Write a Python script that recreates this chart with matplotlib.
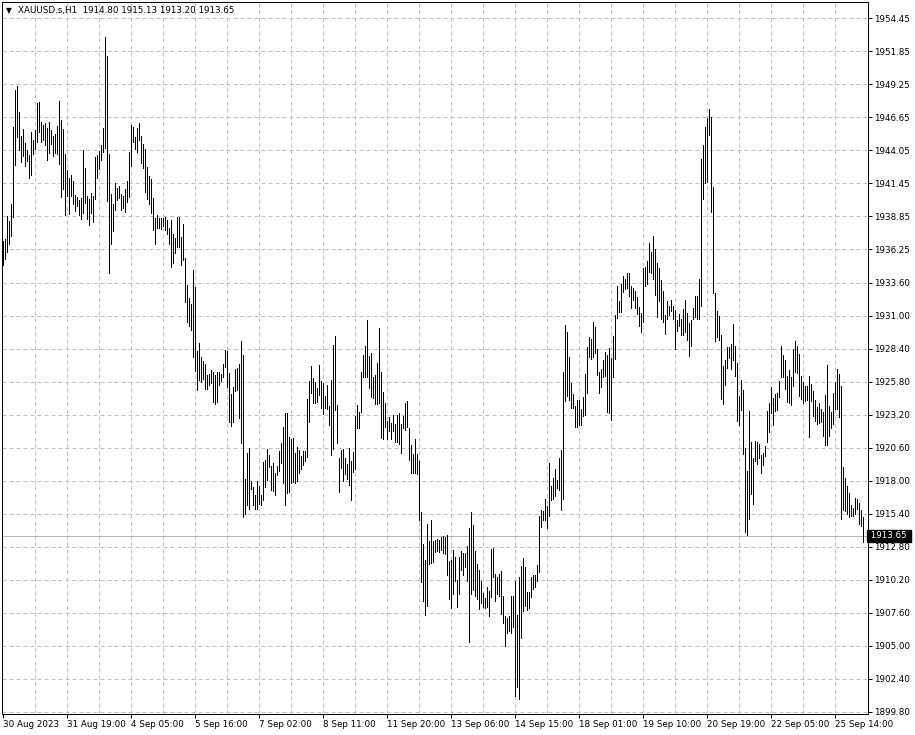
import numpy as np
import matplotlib.pyplot as plt

# dane z wykresu XAUUSD H1 (max / min kazdej swiecy, od lewej)
symbol = "XAUUSD.s,H1"
last_ohlc = [1914.80, 1915.13, 1913.20, 1913.65]

high = [
    1936.90, 1937.03, 1938.85, 1938.45, 1939.79, 1945.86, 1948.77, 1949.09, 1947.07, 1945.15,
    1945.70, 1944.62, 1944.05, 1943.65, 1945.46, 1944.83, 1945.62, 1947.78, 1947.85, 1946.25,
    1946.07, 1946.23, 1945.81, 1946.25, 1945.67, 1945.15, 1945.33, 1945.94, 1947.93, 1946.46,
    1945.73, 1943.73, 1942.47, 1941.84, 1942.08, 1941.63, 1940.53, 1940.37, 1940.11, 1940.29,
    1944.05, 1942.63, 1940.42, 1940.21, 1940.69, 1940.45, 1943.50, 1943.71, 1944.02, 1944.49,
    1945.83, 1952.97, 1951.45, 1943.73, 1940.58, 1939.85, 1941.45, 1941.05, 1941.21, 1940.58,
    1940.45, 1940.97, 1941.63, 1943.95, 1946.04, 1945.90, 1945.11, 1945.80, 1946.22, 1945.14,
    1944.53, 1944.19, 1942.74, 1942.03, 1941.77, 1940.26, 1938.68, 1938.94, 1938.73, 1938.68,
    1938.68, 1938.79, 1938.52, 1937.94, 1938.52, 1937.42, 1937.15, 1938.79, 1938.79, 1937.20,
    1938.21, 1935.57, 1933.41, 1932.41, 1931.93, 1934.65, 1933.25, 1928.24, 1928.85, 1927.79,
    1927.40, 1927.19, 1926.34, 1926.40, 1926.74, 1926.55, 1926.34, 1926.61, 1926.61, 1926.40,
    1927.19, 1928.32, 1928.24, 1926.47, 1924.81, 1925.42, 1926.82, 1926.87, 1927.19, 1929.03,
    1927.92, 1918.17, 1920.15, 1920.59, 1917.96, 1917.51, 1916.90, 1917.96, 1917.59, 1916.90,
    1919.49, 1919.62, 1920.49, 1920.02, 1919.17, 1919.36, 1918.57, 1919.17, 1920.33, 1920.94,
    1922.21, 1923.37, 1923.37, 1921.42, 1921.26, 1921.34, 1920.20, 1920.63, 1920.41, 1919.94,
    1920.36, 1920.36, 1924.42, 1925.90, 1927.06, 1926.08, 1925.82, 1925.29, 1927.14, 1925.90,
    1925.74, 1924.69, 1925.56, 1923.89, 1925.95, 1928.72, 1929.43, 1923.97, 1919.83, 1920.41,
    1920.47, 1919.76, 1919.31, 1920.55, 1919.57, 1920.28, 1923.10, 1923.97, 1923.45, 1926.61,
    1927.93, 1928.59, 1930.64, 1927.80, 1928.06, 1926.21, 1926.35, 1927.27, 1930.04, 1926.61,
    1925.03, 1924.16, 1922.73, 1923.00, 1922.58, 1923.18, 1922.47, 1923.18, 1923.37, 1922.47,
    1923.10, 1924.16, 1924.32, 1922.18, 1920.81, 1920.10, 1921.26, 1920.10, 1919.57, 1915.54,
    1912.98, 1911.77, 1914.56, 1913.24, 1914.88, 1913.24, 1913.35, 1913.43, 1913.35, 1913.56,
    1913.61, 1913.56, 1913.69, 1911.66, 1911.72, 1912.51, 1911.98, 1910.21, 1911.98, 1912.43,
    1912.32, 1912.32, 1912.85, 1914.27, 1915.54, 1914.54, 1912.43, 1911.45, 1910.93, 1910.06,
    1909.16, 1908.74, 1909.61, 1909.34, 1912.64, 1912.69, 1910.66, 1910.40, 1910.66, 1910.85,
    1908.90, 1907.37, 1907.16, 1907.37, 1908.95, 1908.95, 1910.13, 1907.42, 1910.40, 1911.27,
    1911.90, 1911.19, 1909.21, 1909.26, 1910.40, 1910.53, 1910.53, 1911.32, 1915.19, 1915.72,
    1915.61, 1916.59, 1916.00, 1919.41, 1917.56, 1918.25, 1918.96, 1918.04, 1919.83, 1920.41,
    1926.61, 1930.30, 1929.69, 1927.79, 1925.74, 1924.84, 1923.89, 1924.37, 1924.37, 1923.63,
    1924.58, 1926.42, 1928.53, 1929.32, 1929.16, 1930.48, 1930.11, 1928.37, 1926.61, 1926.79,
    1927.48, 1928.11, 1927.92, 1928.45, 1927.66, 1929.38, 1931.09, 1933.39, 1932.15, 1933.47,
    1934.12, 1933.91, 1934.34, 1934.34, 1933.33, 1933.20, 1932.94, 1932.49, 1931.70, 1931.22,
    1934.78, 1934.86, 1935.31, 1936.76, 1936.02, 1937.29, 1936.23, 1935.18, 1934.78, 1933.81,
    1932.94, 1931.09, 1932.15, 1931.80, 1932.23, 1931.75, 1931.43, 1930.64, 1931.17, 1930.75,
    1931.54, 1932.23, 1931.22, 1930.43, 1930.70, 1931.62, 1932.60, 1932.54, 1933.91, 1943.40,
    1944.46, 1945.86, 1946.57, 1947.31, 1946.65, 1941.19, 1932.81, 1931.36, 1931.01, 1929.51,
    1927.06, 1927.48, 1928.53, 1928.53, 1928.80, 1930.38, 1928.59, 1927.32, 1924.69, 1925.95,
    1925.16, 1920.55, 1918.78, 1923.53, 1921.07, 1919.76, 1921.15, 1921.07, 1920.89, 1920.02,
    1920.15, 1920.73, 1923.53, 1924.16, 1925.42, 1924.50, 1924.84, 1924.95, 1925.90, 1928.59,
    1927.93, 1927.48, 1926.27, 1926.74, 1926.16, 1928.38, 1928.98, 1928.64, 1928.01, 1926.22,
    1925.82, 1925.48, 1925.43, 1926.27, 1925.64, 1925.11, 1924.37, 1923.79, 1924.11, 1923.63,
    1923.45, 1924.77, 1927.14, 1923.90, 1923.45, 1924.95, 1925.82, 1926.80, 1926.43, 1925.48,
    1919.10, 1918.25, 1917.57, 1917.04, 1916.07, 1915.88, 1916.67, 1916.59, 1916.25, 1915.67,
    1915.13,
]

low = [
    1934.99, 1935.49, 1936.04, 1936.67, 1937.30, 1938.79, 1942.89, 1945.10, 1944.10, 1943.13,
    1943.57, 1942.81, 1943.18, 1941.87, 1942.10, 1943.73, 1944.15, 1944.73, 1945.49, 1944.68,
    1944.86, 1944.44, 1943.29, 1943.86, 1944.52, 1943.60, 1943.81, 1943.78, 1943.00, 1940.37,
    1941.00, 1938.98, 1940.45, 1939.03, 1940.42, 1939.82, 1939.29, 1939.63, 1938.93, 1938.64,
    1939.08, 1939.90, 1938.64, 1938.16, 1939.11, 1938.40, 1940.21, 1941.87, 1942.60, 1943.26,
    1943.92, 1944.23, 1940.05, 1934.38, 1936.67, 1937.70, 1939.34, 1940.10, 1940.26, 1939.31,
    1939.47, 1939.21, 1940.00, 1940.37, 1942.82, 1944.74, 1944.19, 1943.95, 1944.85, 1943.08,
    1942.69, 1940.79, 1940.24, 1939.84, 1939.13, 1937.73, 1936.68, 1937.94, 1937.89, 1937.81,
    1938.07, 1937.73, 1937.42, 1936.68, 1934.86, 1935.17, 1935.97, 1936.41, 1936.44, 1934.99,
    1935.44, 1932.09, 1930.51, 1930.17, 1929.90, 1927.79, 1926.66, 1925.16, 1925.95, 1925.82,
    1926.03, 1925.24, 1925.24, 1925.55, 1925.68, 1924.23, 1924.02, 1924.18, 1925.55, 1925.87,
    1926.21, 1927.00, 1925.42, 1922.65, 1922.33, 1922.60, 1925.08, 1925.16, 1922.92, 1920.94,
    1915.14, 1915.40, 1916.06, 1915.80, 1917.38, 1916.11, 1915.74, 1915.74, 1916.19, 1916.11,
    1916.46, 1917.51, 1918.04, 1919.09, 1917.25, 1917.17, 1916.90, 1918.43, 1918.75, 1919.36,
    1917.83, 1916.06, 1917.04, 1917.12, 1917.83, 1917.91, 1917.83, 1917.99, 1918.57, 1918.89,
    1919.23, 1919.57, 1919.89, 1922.66, 1924.90, 1924.16, 1924.11, 1924.24, 1924.76, 1923.71,
    1923.26, 1923.71, 1923.63, 1922.39, 1920.02, 1920.47, 1923.58, 1920.99, 1917.12, 1919.04,
    1917.99, 1918.52, 1918.17, 1917.65, 1916.46, 1918.70, 1918.96, 1922.13, 1922.13, 1923.45,
    1926.16, 1926.20, 1926.16, 1925.29, 1924.58, 1924.50, 1924.05, 1924.05, 1924.16, 1921.34,
    1921.26, 1922.21, 1921.26, 1921.94, 1921.26, 1921.94, 1921.07, 1921.07, 1920.89, 1920.15,
    1922.13, 1922.00, 1922.21, 1919.62, 1918.62, 1918.57, 1918.57, 1918.52, 1914.93, 1910.00,
    1908.50, 1907.44, 1908.15, 1911.45, 1911.50, 1911.58, 1912.37, 1912.45, 1912.37, 1912.56,
    1912.29, 1912.24, 1910.53, 1908.68, 1907.95, 1909.08, 1910.06, 1908.03, 1909.08, 1910.93,
    1910.58, 1911.19, 1910.06, 1905.31, 1909.08, 1909.42, 1908.90, 1908.68, 1907.89, 1908.37,
    1908.03, 1907.95, 1908.03, 1907.37, 1908.82, 1910.40, 1908.55, 1909.08, 1908.90, 1907.50,
    1906.79, 1904.99, 1905.99, 1906.18, 1905.99, 1906.44, 1900.99, 1901.70, 1900.78, 1905.57,
    1907.76, 1908.11, 1907.84, 1907.95, 1908.82, 1909.47, 1909.60, 1910.06, 1910.84, 1914.35,
    1914.88, 1914.93, 1914.30, 1915.19, 1916.51, 1916.59, 1916.77, 1917.46, 1917.30, 1915.72,
    1916.59, 1924.31, 1924.68, 1924.37, 1923.71, 1923.71, 1922.20, 1922.20, 1922.39, 1922.39,
    1923.10, 1923.18, 1924.95, 1927.74, 1927.58, 1927.79, 1928.06, 1926.34, 1924.95, 1925.42,
    1926.16, 1926.27, 1923.44, 1923.36, 1922.78, 1926.16, 1927.58, 1930.83, 1931.28, 1931.28,
    1932.86, 1933.12, 1933.20, 1932.60, 1931.62, 1932.23, 1931.62, 1931.17, 1930.22, 1929.70,
    1930.49, 1933.39, 1933.54, 1934.44, 1934.39, 1933.91, 1932.67, 1930.91, 1932.15, 1930.75,
    1930.49, 1929.59, 1930.75, 1931.09, 1931.36, 1930.75, 1928.38, 1929.77, 1930.22, 1929.51,
    1929.51, 1929.70, 1929.06, 1927.80, 1928.59, 1930.75, 1930.91, 1930.75, 1930.75, 1931.75,
    1940.24, 1941.51, 1941.56, 1945.25, 1939.19, 1932.81, 1928.98, 1929.33, 1929.12, 1924.42,
    1924.05, 1925.56, 1926.87, 1927.66, 1926.79, 1927.48, 1926.27, 1922.74, 1922.39, 1923.58,
    1920.10, 1913.96, 1913.69, 1915.01, 1916.93, 1916.14, 1919.57, 1919.31, 1919.83, 1918.57,
    1919.23, 1919.94, 1921.07, 1921.86, 1923.32, 1922.39, 1923.53, 1923.58, 1924.63, 1926.16,
    1926.16, 1925.20, 1924.24, 1924.16, 1923.98, 1925.43, 1926.61, 1926.48, 1924.69, 1924.42,
    1924.11, 1924.32, 1924.37, 1921.42, 1924.32, 1923.11, 1922.74, 1922.47, 1922.58, 1922.66,
    1921.52, 1920.81, 1920.81, 1921.52, 1922.13, 1922.47, 1923.63, 1923.63, 1923.05, 1915.01,
    1915.72, 1915.62, 1915.35, 1915.14, 1915.20, 1915.20, 1915.41, 1915.80, 1914.56, 1914.41,
    1913.20,
]

price_ticks = [1954.45, 1951.85, 1949.25, 1946.65, 1944.05, 1941.45, 1938.85, 1936.25,
               1933.60, 1931.00, 1928.40, 1925.80, 1923.20, 1920.60, 1918.00, 1915.40,
               1912.80, 1910.20, 1907.60, 1905.00, 1902.40, 1899.80]
date_labels = ["30 Aug 2023", "31 Aug 19:00", "4 Sep 05:00", "5 Sep 16:00", "7 Sep 02:00",
               "8 Sep 11:00", "11 Sep 20:00", "13 Sep 06:00", "14 Sep 15:00", "18 Sep 01:00",
               "19 Sep 10:00", "20 Sep 19:00", "22 Sep 05:00", "25 Sep 14:00"]
label_every = 32   # swiec miedzy opisami daty
grid_every = 16    # swiec miedzy pionowymi liniami siatki

W, H = 915, 735
fig = plt.figure(figsize=(W / 100, H / 100), dpi=100)
ax = fig.add_axes([2 / W, 1 - 714 / H, 866 / W, 712 / H])

x = np.arange(len(high))
grid_col = '#c0c0c0'
px = 0.72  # 1 piksel w punktach

# siatka
for p in price_ticks:
    ax.axhline(p, color=grid_col, lw=px, dashes=(4, 3), zorder=0)
for g in range(grid_every, len(high), grid_every):
    ax.axvline(g, color=grid_col, lw=px, dashes=(4, 3), zorder=0)

# linia aktualnej ceny
ax.axhline(last_ohlc[3], color='#b4b4b4', lw=px, zorder=1)

# slupki
ax.vlines(x, low, high, colors='black', linewidth=px, antialiased=False, zorder=2)

ax.set_xlim(-0.5, 432.5)
ax.set_ylim(1899.61, 1955.74)

font = 'DejaVu Sans'
fs = 6.3

ax.yaxis.tick_right()
ax.set_yticks(price_ticks)
ax.set_yticklabels([f"{p:.2f}" for p in price_ticks], fontsize=fs, family=font)
ax.tick_params(axis='y', direction='out', length=3, width=px, pad=1)

label_pos = [i * label_every for i in range(len(date_labels))]
ax.set_xticks(label_pos)
ax.set_xticklabels(date_labels, fontsize=fs, family=font)
for t in ax.get_xticklabels():
    t.set_ha('left')
ax.tick_params(axis='x', direction='out', length=3, width=px, pad=1.5)

for s in ax.spines.values():
    s.set_linewidth(px)
    s.set_color('black')

# etykieta ceny biezacej po prawej
ax.text(1.0, last_ohlc[3], f" {last_ohlc[3]:.2f} ", transform=ax.get_yaxis_transform(),
        ha='left', va='center', fontsize=fs, family=font, color='white', zorder=5,
        bbox=dict(facecolor='black', edgecolor='black', pad=1.0), clip_on=False)

# naglowek
fig.text(6 / W, 1 - 11 / H, "\u25BC", fontsize=5.5, family=font, va='center', ha='left')
fig.text(18 / W, 1 - 11 / H,
         f"{symbol}  " + " ".join(f"{v:.2f}" for v in last_ohlc),
         fontsize=fs, family=font, va='center', ha='left')

fig.savefig('out.png', dpi=100, facecolor='white')
